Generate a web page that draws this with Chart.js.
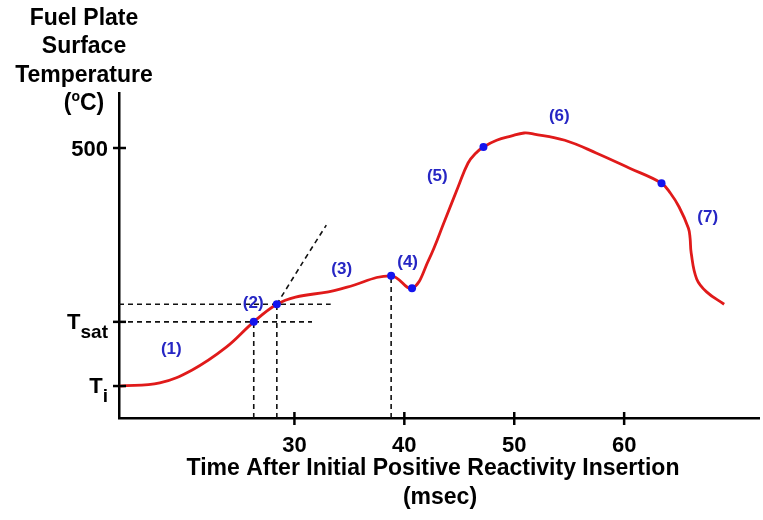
<!DOCTYPE html>
<html>
<head>
<meta charset="utf-8">
<script src="https://cdn.jsdelivr.net/npm/chart.js@4.4.1/dist/chart.umd.min.js"></script>
<style>
  html, body { margin: 0; padding: 0; background: #fff; }
  canvas { display: block; }
</style>
</head>
<body>
<canvas id="tempChart" width="763" height="520"></canvas>
<script>
// Fuel plate surface temperature during a positive reactivity excursion

const T_INITIAL = 40;
const T_SAT = 164;
const yTickValues = [T_INITIAL, T_SAT, 500];
const xTickValues = [30, 40, 50, 60];

// red curve: time (msec) and temperature (°C)
const curveTime = [14.1, 17.75, 20.7, 23.8, 26.3, 28.4, 30.1, 33.1, 34.8, 38.8, 40.7, 42.2, 43.7, 44.9, 45.8, 46.5,
                   47.2, 48.4, 49.7, 50.9, 51.8, 54.6, 57.5, 60.5, 63.4, 64.2, 65.0, 65.85, 66.0, 66.1, 66.6,
                   67.5, 69.1];
const curveTemp = [T_INITIAL, 46, 71, 115, T_SAT, 198, 212, 222, 231, 253, 229, 283, 361, 425, 471, 490,
                   502, 515, 523, 529, 527, 515, 490, 461, 432, 413, 386, 345, 326, 297, 247,
                   222, 198];

// blue dots sit on these curve points
const markerIdx = [4, 5, 9, 10, 16, 24];

// single-phase extrapolation beyond boiling onset
const extTime = [28.4, 30.7, 32.9];
const extTemp = [198, 277, 351];

// dashed guides: vertical drops from first three dots, horizontals from first two
const vGuideMarkers = [0, 1, 2];
const hGuideEnd = [31.6, 33.3];

// phase numbers
const phaseLabels = ['(1)', '(2)', '(3)', '(4)', '(5)', '(6)', '(7)'];
const phaseTime = [18.8, 26.25, 34.3, 40.3, 43.0, 54.1, 67.6];
const phaseTemp = [110, 200, 266, 280, 445, 562, 366];

const X_MIN = 14.04, X_MAX = 72.27;
const Y_MIN = -21.8, Y_MAX = 606.3;

const FONT = "'Liberation Sans', Arial, sans-serif";
const RED = '#e01a1a';
const DOT_BLUE = '#1414ee';
const TEXT_BLUE = '#2626c4';
const DASH = '#111';

const curve = curveTime.map((t, i) => ({ x: t, y: curveTemp[i] }));
const markers = markerIdx.map(i => curve[i]);

const datasets = [
    {
        data: markers,
        showLine: false,
        pointRadius: 4,
        pointBackgroundColor: DOT_BLUE,
        pointBorderWidth: 0,
        order: 0
    },
    {
        data: curve,
        borderColor: RED,
        borderWidth: 2.8,
        pointRadius: 0,
        tension: 0.4,
        order: 1
    },
    {
        data: extTime.map((t, i) => ({ x: t, y: extTemp[i] })),
        borderColor: DASH,
        borderWidth: 1.6,
        borderDash: [5, 4],
        pointRadius: 0,
        tension: 0.3,
        order: 2
    }
];

vGuideMarkers.forEach(m => {
    datasets.push({
        data: [{ x: markers[m].x, y: Y_MIN }, { x: markers[m].x, y: markers[m].y }],
        borderColor: DASH, borderWidth: 1.6, borderDash: [5, 4], pointRadius: 0, order: 3
    });
});
hGuideEnd.forEach((end, m) => {
    datasets.push({
        data: [{ x: X_MIN, y: markers[m].y }, { x: end, y: markers[m].y }],
        borderColor: DASH, borderWidth: 1.6, borderDash: [5, 4], pointRadius: 0, order: 3
    });
});

function line(ctx, x1, y1, x2, y2) {
    ctx.beginPath();
    ctx.moveTo(x1, y1);
    ctx.lineTo(x2, y2);
    ctx.stroke();
}

// text on y axis ticks, axis titles, tick marks crossing the axes and phase numbers
const overlay = {
    id: 'overlay',
    afterDraw(chart) {
        const { ctx, chartArea: area, scales: { x, y } } = chart;
        ctx.save();

        ctx.strokeStyle = '#000';
        ctx.lineWidth = 2.5;
        xTickValues.forEach(v => {
            const px = x.getPixelForValue(v);
            line(ctx, px, area.bottom - 6, px, area.bottom + 7);
        });
        yTickValues.forEach(v => {
            const py = y.getPixelForValue(v);
            line(ctx, area.left - 6, py, area.left + 7, py);
        });

        ctx.fillStyle = '#000';
        ctx.textBaseline = 'alphabetic';

        // y tick labels
        const right = 108;
        ctx.font = 'bold 22px ' + FONT;
        ctx.textAlign = 'right';
        ctx.fillText('500', right, y.getPixelForValue(500) + 8);

        const subLabel = (value, sub, subSize, drop) => {
            const py = y.getPixelForValue(value);
            ctx.font = 'bold ' + subSize + 'px ' + FONT;
            const w = ctx.measureText(sub).width;
            ctx.textAlign = 'left';
            ctx.fillText(sub, right - w, py + 7 + drop);
            ctx.font = 'bold 22px ' + FONT;
            ctx.textAlign = 'right';
            ctx.fillText('T', right - w, py + 7);
        };
        subLabel(T_SAT, 'sat', 19, 9);
        subLabel(T_INITIAL, 'i', 19, 9);

        // y axis title
        const titleFont = 'bold 23px ' + FONT;
        ctx.font = titleFont;
        ctx.textAlign = 'center';
        const cx = 84;
        ctx.fillText('Fuel Plate', cx, 25);
        ctx.fillText('Surface', cx, 53);
        ctx.fillText('Temperature', cx, 82);
        const wOpen = ctx.measureText('(').width;
        const wRest = ctx.measureText('C)').width;
        ctx.font = 'bold 14px ' + FONT;
        const wSup = ctx.measureText('o').width;
        const sx = cx - (wOpen + wSup + wRest) / 2;
        ctx.textAlign = 'left';
        ctx.font = titleFont;
        ctx.fillText('(', sx, 110);
        ctx.font = 'bold 14px ' + FONT;
        ctx.fillText('o', sx + wOpen, 101);
        ctx.font = titleFont;
        ctx.fillText('C)', sx + wOpen + wSup, 110);

        // x axis title
        ctx.textAlign = 'center';
        ctx.fillText('Time After Initial Positive Reactivity Insertion', 433, 475);
        ctx.fillText('(msec)', 440, 504);

        // phase numbers
        ctx.fillStyle = TEXT_BLUE;
        ctx.font = 'bold 17px ' + FONT;
        ctx.textBaseline = 'middle';
        phaseLabels.forEach((txt, i) => {
            ctx.fillText(txt, x.getPixelForValue(phaseTime[i]), y.getPixelForValue(phaseTemp[i]));
        });

        ctx.restore();
    }
};

new Chart(document.getElementById('tempChart'), {
    type: 'line',
    data: { datasets },
    options: {
        responsive: false,
        animation: false,
        layout: { padding: { top: 93, right: 0, bottom: 0, left: 0 } },
        plugins: { legend: { display: false }, tooltip: { enabled: false } },
        scales: {
            x: {
                type: 'linear',
                min: X_MIN,
                max: X_MAX,
                afterBuildTicks: s => { s.ticks = xTickValues.map(v => ({ value: v })); },
                afterFit: s => { s.height = 102; },
                grid: { display: false, drawTicks: false },
                border: { display: true, color: '#000', width: 2.5 },
                ticks: {
                    color: '#000',
                    padding: 15,
                    maxRotation: 0,
                    font: { family: FONT, size: 22, weight: 'bold' }
                }
            },
            y: {
                type: 'linear',
                min: Y_MIN,
                max: Y_MAX,
                afterBuildTicks: s => { s.ticks = yTickValues.map(v => ({ value: v })); },
                afterFit: s => { s.width = 119; },
                grid: { display: false, drawTicks: false },
                border: { display: true, color: '#000', width: 2.5 },
                ticks: { display: false }
            }
        }
    },
    plugins: [overlay]
});
</script>
</body>
</html>
